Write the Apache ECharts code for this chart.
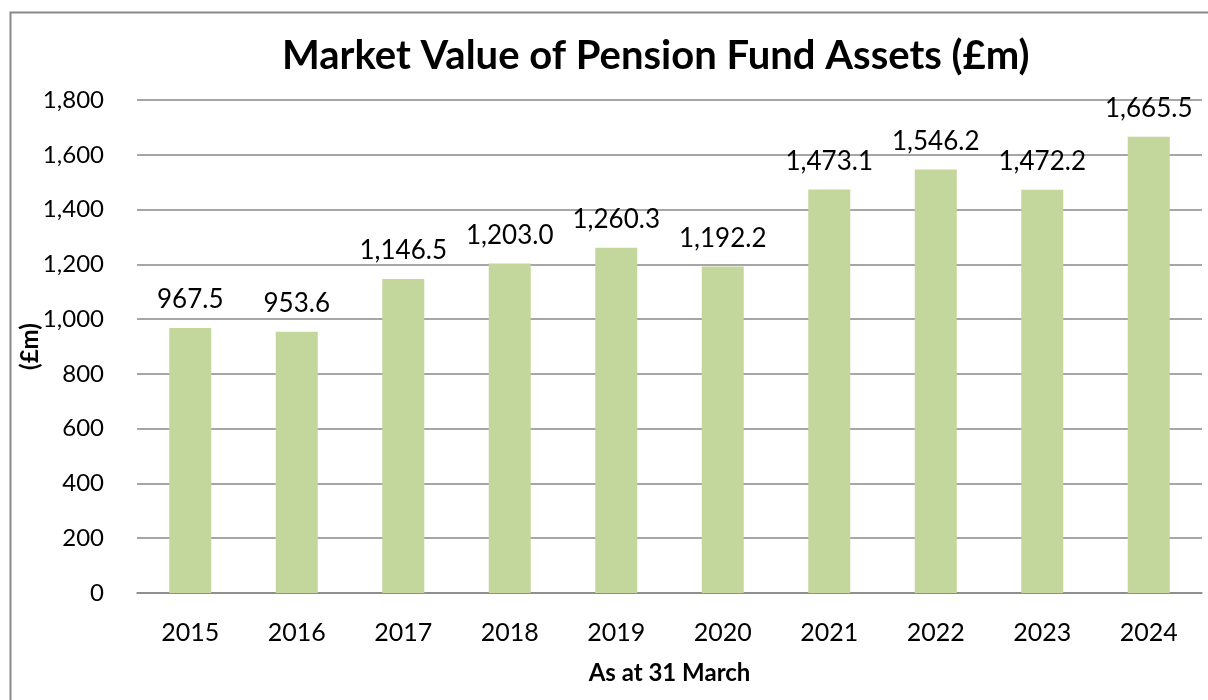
<!DOCTYPE html>
<html>
<head>
<meta charset="utf-8">
<script src="https://cdn.jsdelivr.net/npm/echarts@6/dist/echarts.min.js"></script>
<style>
html, body { margin: 0; padding: 0; background: #fff; }
#main { width: 1208px; height: 700px; }
</style>
</head>
<body>
<div id="main"></div>
<script>
var years = ['2015', '2016', '2017', '2018', '2019', '2020', '2021', '2022', '2023', '2024'];
var values = [967.5, 953.6, 1146.5, 1203.0, 1260.3, 1192.2, 1473.1, 1546.2, 1472.2, 1665.5];

var myChart = echarts.init(document.getElementById('main'));

function fmt(v) {
	return v.toLocaleString('en-GB', { minimumFractionDigits: 1, maximumFractionDigits: 1 });
}

option = {
	animation: false,
	textStyle: { fontFamily: 'Lato' },
	title: {
		text: 'Market Value of Pension Fund Assets (£m)',
		left: 277,
		top: 31,
		textStyle: { fontFamily: 'Lato', fontSize: 40, fontWeight: 'bold', color: '#000' }
	},
	graphic: [{
		type: 'rect',
		shape: { x: 10.5, y: 12.5, width: 1300, height: 800 },
		style: { fill: 'none', stroke: '#888', lineWidth: 2 },
		silent: true
	}],
	grid: { left: 137, right: 6, top: 100, bottom: 107 },
	xAxis: {
		type: 'category',
		data: years,
		name: 'As at 31 March',
		nameLocation: 'middle',
		nameGap: 68,
		nameTextStyle: { fontFamily: 'Lato', fontSize: 24, fontWeight: 'bold', color: '#000' },
		axisLine: { lineStyle: { color: '#888', width: 1.5 } },
		axisTick: { show: false },
		axisLabel: { fontFamily: 'Lato', fontSize: 25, color: '#000', margin: 27 }
	},
	yAxis: {
		type: 'value',
		min: 0,
		max: 1800,
		interval: 200,
		name: '(£m)',
		nameLocation: 'middle',
		nameGap: 95,
		nameMoveOverlap: false,
		nameTextStyle: { fontFamily: 'Lato', fontSize: 24, fontWeight: 'bold', color: '#000' },
		axisLine: { show: false },
		axisTick: { show: false },
		axisLabel: {
			fontFamily: 'Lato', fontSize: 24, color: '#000', margin: 33,
			formatter: function(v) { return v.toLocaleString('en-GB'); }
		},
		splitLine: { lineStyle: { color: '#888', width: 1.5 } }
	},
	series: [{
		type: 'bar',
		data: values,
		barWidth: 42,
		itemStyle: { color: '#c3d69b' },
		label: {
			show: true,
			position: 'top',
			distance: 15,
			fontFamily: 'Lato',
			fontSize: 26,
			color: '#000',
			formatter: function(p) { return fmt(p.value); }
		}
	}]
};

myChart.setOption(option);
window.onresize = myChart.resize;
</script>
</body>
</html>
